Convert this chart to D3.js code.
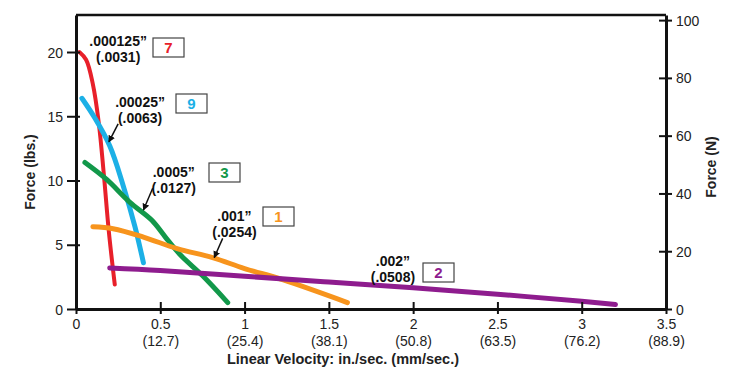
<!DOCTYPE html>
<html><head><meta charset="utf-8">
<script src="https://cdn.jsdelivr.net/npm/d3@7"></script>
<style>body{margin:0;background:#fff}svg{display:block;font-family:"Liberation Sans",Arial,Helvetica,sans-serif}</style>
</head><body><svg id="c" width="729" height="380"></svg>
<script>
// ---- data ----
const xTicks = [0, 0.5, 1, 1.5, 2, 2.5, 3, 3.5];
const xTickMm = ["", "(12.7)", "(25.4)", "(38.1)", "(50.8)", "(63.5)", "(76.2)", "(88.9)"];
const yTicksLbs = [0, 5, 10, 15, 20];
const yTicksN = [0, 20, 40, 60, 80, 100];

const seriesIds = ["7", "9", "3", "1", "2"];
const seriesIn = [".000125\u201D", ".00025\u201D", ".0005\u201D", ".001\u201D", ".002\u201D"];
const seriesMm = ["(.0031)", "(.0063)", "(.0127)", "(.0254)", "(.0508)"];
const seriesColors = ["#e8202a", "#1cb0e6", "#12984a", "#f7941d", "#8e1c8e"];

const velRed = [0.02, 0.06, 0.10, 0.135, 0.165, 0.195, 0.23];
const forceRed = [20, 19.4, 17.5, 14.5, 10.5, 6.0, 1.9];
const velBlue = [0.035, 0.11, 0.20, 0.28, 0.35, 0.40];
const forceBlue = [16.4, 14.9, 12.7, 9.6, 6.4, 3.6];
const velGreen = [0.053, 0.18, 0.32, 0.45, 0.53, 0.62, 0.75, 0.90];
const forceGreen = [11.4, 10.1, 8.3, 6.9, 5.6, 4.2, 2.6, 0.5];
const velOrange = [0.10, 0.22, 0.40, 0.60, 0.81, 1.0, 1.23, 1.61];
const forceOrange = [6.4, 6.25, 5.6, 4.7, 4.0, 3.15, 2.26, 0.5];
const velPurple = [0.20, 0.5, 1.0, 1.5, 2.0, 2.5, 3.0, 3.2];
const forcePurple = [3.2, 3.0, 2.55, 2.1, 1.65, 1.15, 0.6, 0.35];

const seriesVel = [velRed, velBlue, velGreen, velOrange, velPurple];
const seriesForce = [forceRed, forceBlue, forceGreen, forceOrange, forcePurple];

// label anchor points in data units (x in in./sec, y in lbs)
const labelPos = [[0.25, 20.45], [0.38, 15.75], [0.58, 10.25], [0.94, 6.85], [1.88, 3.35]];
// arrows: from/to in data units (null = none)
const arrowFrom = [null, [0.25, 14.4], [0.455, 9.4], [0.87, 5.5], null];
const arrowTo   = [null, [0.195, 13.0], [0.40, 7.7], [0.82, 4.0], null];

// ---- chart ----
const svg = d3.select("#c");
const x = d3.scaleLinear().domain([0, 3.5]).range([76, 666]);
const y = d3.scaleLinear().domain([0, 22.88]).range([309, 15]);
const yN = d3.scaleLinear().domain([0, 22.88 * 4.448]).range([309, 15]);

const defs = svg.append("defs");
defs.append("marker").attr("id", "ah").attr("viewBox", "0 0 10 10").attr("refX", 9).attr("refY", 5)
  .attr("markerWidth", 7).attr("markerHeight", 8).attr("markerUnits", "userSpaceOnUse").attr("orient", "auto")
  .append("path").attr("d", "M0,0L10,5L0,10z").attr("fill", "#111");

// frame
svg.append("path").attr("d", `M${x(0)},${y(22.88)}H${x(3.5)}`).attr("stroke", "#111").attr("stroke-width", 2.5);

// curves
const line = d3.line().x(d => x(d[0])).y(d => y(d[1])).curve(d3.curveCatmullRom.alpha(0.5));
seriesVel.forEach((vs, i) => {
  const pts = vs.map((v, j) => [v, seriesForce[i][j]]);
  svg.append("path").attr("d", line(pts)).attr("fill", "none")
    .attr("stroke", seriesColors[i]).attr("stroke-width", i === 0 ? 4 : 5).attr("stroke-linecap", "round");
});

// axes
const ax = svg.append("g").attr("transform", `translate(0,${y(0)})`)
  .call(d3.axisBottom(x).tickValues(xTicks).tickSize(0).tickFormat(""));
ax.select(".domain").attr("stroke", "#111").attr("stroke-width", 3);
ax.selectAll(".tick").each(function(d, i) {
  const g = d3.select(this);
  g.append("line").attr("y1", -7).attr("y2", 5).attr("stroke", "#111").attr("stroke-width", 2);
  g.append("text").attr("y", 20).attr("text-anchor", "middle").attr("fill", "#222")
    .attr("font-size", 14).text(d);
  g.append("text").attr("y", 37).attr("text-anchor", "middle").attr("fill", "#222")
    .attr("font-size", 14).text(xTickMm[i]);
});

const ayl = svg.append("g").attr("transform", `translate(${x(0)},0)`)
  .call(d3.axisLeft(y).tickValues(yTicksLbs).tickSize(0).tickFormat(""));
ayl.select(".domain").attr("stroke", "#111").attr("stroke-width", 3);
ayl.selectAll(".tick").each(function(d) {
  const g = d3.select(this);
  g.append("line").attr("x1", -9).attr("x2", 4).attr("stroke", "#111").attr("stroke-width", 2);
  g.append("text").attr("x", -13).attr("dy", "0.36em").attr("text-anchor", "end").attr("fill", "#222")
    .attr("font-size", 14).text(d);
});

const ayr = svg.append("g").attr("transform", `translate(${x(3.5)},0)`)
  .call(d3.axisRight(yN).tickValues(yTicksN).tickSize(0).tickFormat(""));
ayr.select(".domain").attr("stroke", "#111").attr("stroke-width", 3);
ayr.selectAll(".tick").each(function(d) {
  const g = d3.select(this);
  g.append("line").attr("x1", -7).attr("x2", 6).attr("stroke", "#111").attr("stroke-width", 2);
  g.append("text").attr("x", 10).attr("dy", "0.36em").attr("text-anchor", "start").attr("fill", "#222")
    .attr("font-size", 14).text(d);
});

// axis titles
svg.append("text").attr("x", 343).attr("y", 364).attr("text-anchor", "middle")
  .attr("font-weight", "bold").attr("font-size", 14.5).attr("fill", "#222")
  .text("Linear Velocity:  in./sec. (mm/sec.)");
svg.append("text").attr("transform", "translate(35,172) rotate(-90)").attr("text-anchor", "middle")
  .attr("font-weight", "bold").attr("font-size", 14).attr("fill", "#222").text("Force (lbs.)");
svg.append("text").attr("transform", "translate(716,167) rotate(-90)").attr("text-anchor", "middle")
  .attr("font-weight", "bold").attr("font-size", 14).attr("fill", "#222").text("Force (N)");

// curve labels
seriesIds.forEach((id, i) => {
  const cx = x(labelPos[i][0]), cy = y(labelPos[i][1]);
  const g = svg.append("g");
  g.append("text").attr("x", cx).attr("y", cy).attr("text-anchor", "middle")
    .attr("font-weight", "bold").attr("font-size", 14).attr("fill", "#111").text(seriesIn[i]);
  g.append("text").attr("x", cx).attr("y", cy + 16).attr("text-anchor", "middle")
    .attr("font-weight", "bold").attr("font-size", 14).attr("fill", "#111").text(seriesMm[i]);
});
// id boxes, placed right of the labels
const boxLeft = [153, 176, 209, 263, 423];
const boxTop = [38, 94, 163, 207, 263];
seriesIds.forEach((id, i) => {
  svg.append("rect").attr("x", boxLeft[i]).attr("y", boxTop[i]).attr("width", 31).attr("height", 19)
    .attr("fill", "#fff").attr("stroke", "#444").attr("stroke-width", 1.2);
  svg.append("text").attr("x", boxLeft[i] + 15.5).attr("y", boxTop[i] + 15).attr("text-anchor", "middle")
    .attr("font-weight", "bold").attr("font-size", 15).attr("fill", seriesColors[i]).text(id);
});

// arrows
arrowFrom.forEach((f, i) => {
  if (!f) return;
  const t = arrowTo[i];
  svg.append("line").attr("x1", x(f[0])).attr("y1", y(f[1])).attr("x2", x(t[0])).attr("y2", y(t[1]))
    .attr("stroke", "#111").attr("stroke-width", 1.5).attr("marker-end", "url(#ah)");
});
</script></body></html>
